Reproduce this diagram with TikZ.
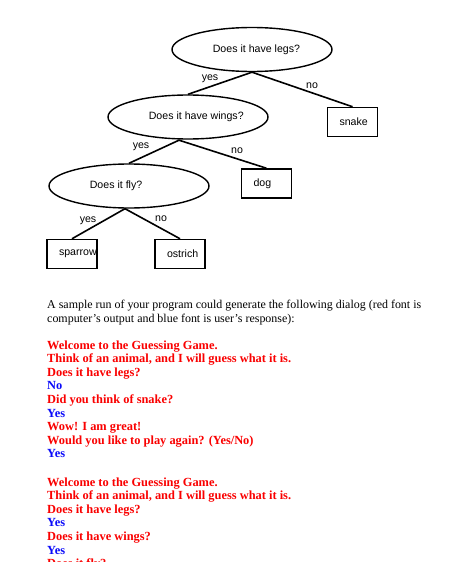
\documentclass[tikz,border=0pt]{standalone}
\usepackage{fontspec}
\setmainfont{Liberation Serif}
\newfontfamily\arialfont{Liberation Sans}
\usetikzlibrary{shapes.geometric}
\definecolor{outred}{RGB}{250,0,0}
\definecolor{inblue}{RGB}{10,10,250}
\begin{document}
\begin{tikzpicture}[x=1pt,y=-1pt,
  sans/.style={font=\arialfont\fontsize{10.6}{12}\selectfont},
  question/.style={ellipse, draw, line width=1.4pt, minimum width=160pt, minimum height=44pt, inner sep=0pt},
  qtext/.style={anchor=west, xshift=38pt, sans},
  leaf/.style={rectangle, draw, line width=1.5pt, minimum width=50pt, minimum height=29pt,
    text width=26pt, inner xsep=12pt, inner ysep=0pt, align=left, sans},
  branch/.style={line width=1.6pt},
  lbl/.style={sans, inner sep=0pt},
  para/.style={anchor=base west, inner sep=0pt, font=\fontsize{11.95}{14}\selectfont},
  outline/.style={anchor=base west, inner sep=0pt, text=outred, font=\bfseries\fontsize{12.4}{14}\selectfont},
  inline/.style={anchor=base west, inner sep=0pt, text=inblue, font=\bfseries\fontsize{12.4}{14}\selectfont}]
\useasboundingbox[fill=white] (0,0) rectangle (453,562);
\clip (0,0) rectangle (453,562);

% tree
\node[question, label={[qtext]west:Does it have legs?}] (legs) at (252,49.5) {};
\node[question, label={[qtext]west:Does it have wings?}] (wings) at (188,117) {};
\node[question, label={[qtext]west:Does it fly?}] (fly) at (129,186) {};
\node[leaf] (snake) at (352.5,122) {snake};
\node[leaf] (dog) at (266.5,183.5) {dog};
\node[leaf] (sparrow) at (72,254) {sparrow};
\node[leaf] (ostrich) at (180,254) {ostrich};

\draw[branch] (legs.south) -- (wings.north);
\draw[branch] (legs.south) -- (snake.north);
\draw[branch] ([xshift=-9pt,yshift=-0.5pt]wings.south) -- (fly.north);
\draw[branch] ([xshift=-9pt,yshift=-0.5pt]wings.south) -- (dog.north);
\draw[branch] ([xshift=-4pt]fly.south) -- (sparrow.north);
\draw[branch] ([xshift=-4pt]fly.south) -- (ostrich.north);

\node[lbl] (yes1) at (210,78.5) {yes};
\node[lbl] (no1) at (312,86) {no};
\node[lbl] (yes2) at (141,147) {yes};
\node[lbl] (no2) at (237,151) {no};
\node[lbl] (yes3) at (88,221) {yes};
\node[lbl] (no3) at (161,218.5) {no};

% text
\node[para] (p1) at (47,308) {A sample run of your program could generate the following dialog (red font is};
\node[para] (p2) at (47,322) {computer’s output and blue font is user’s response):};

\node[outline] (a1) at (47,349) {Welcome to the Guessing Game.};
\node[outline] (a2) at (47,362.6) {Think of an animal, and I will guess what it is.};
\node[outline] (a3) at (47,376.2) {Does it have legs?};
\node[inline]  (a4) at (47,389.8) {No};
\node[outline] (a5) at (47,403.4) {Did you think of snake?};
\node[inline]  (a6) at (47,417) {Yes};
\node[outline] (a7) at (47,430.6) {Wow! I am great!};
\node[outline] (a8) at (47,444.2) {Would you like to play again? (Yes/No)};
\node[inline]  (a9) at (47,457.8) {Yes};

\node[outline] (b1) at (47,486) {Welcome to the Guessing Game.};
\node[outline] (b2) at (47,499.6) {Think of an animal, and I will guess what it is.};
\node[outline] (b3) at (47,513.2) {Does it have legs?};
\node[inline]  (b4) at (47,526.8) {Yes};
\node[outline] (b5) at (47,540.4) {Does it have wings?};
\node[inline]  (b6) at (47,554) {Yes};
\node[outline] (b7) at (47,567.6) {Does it fly?};
\end{tikzpicture}
\end{document}
